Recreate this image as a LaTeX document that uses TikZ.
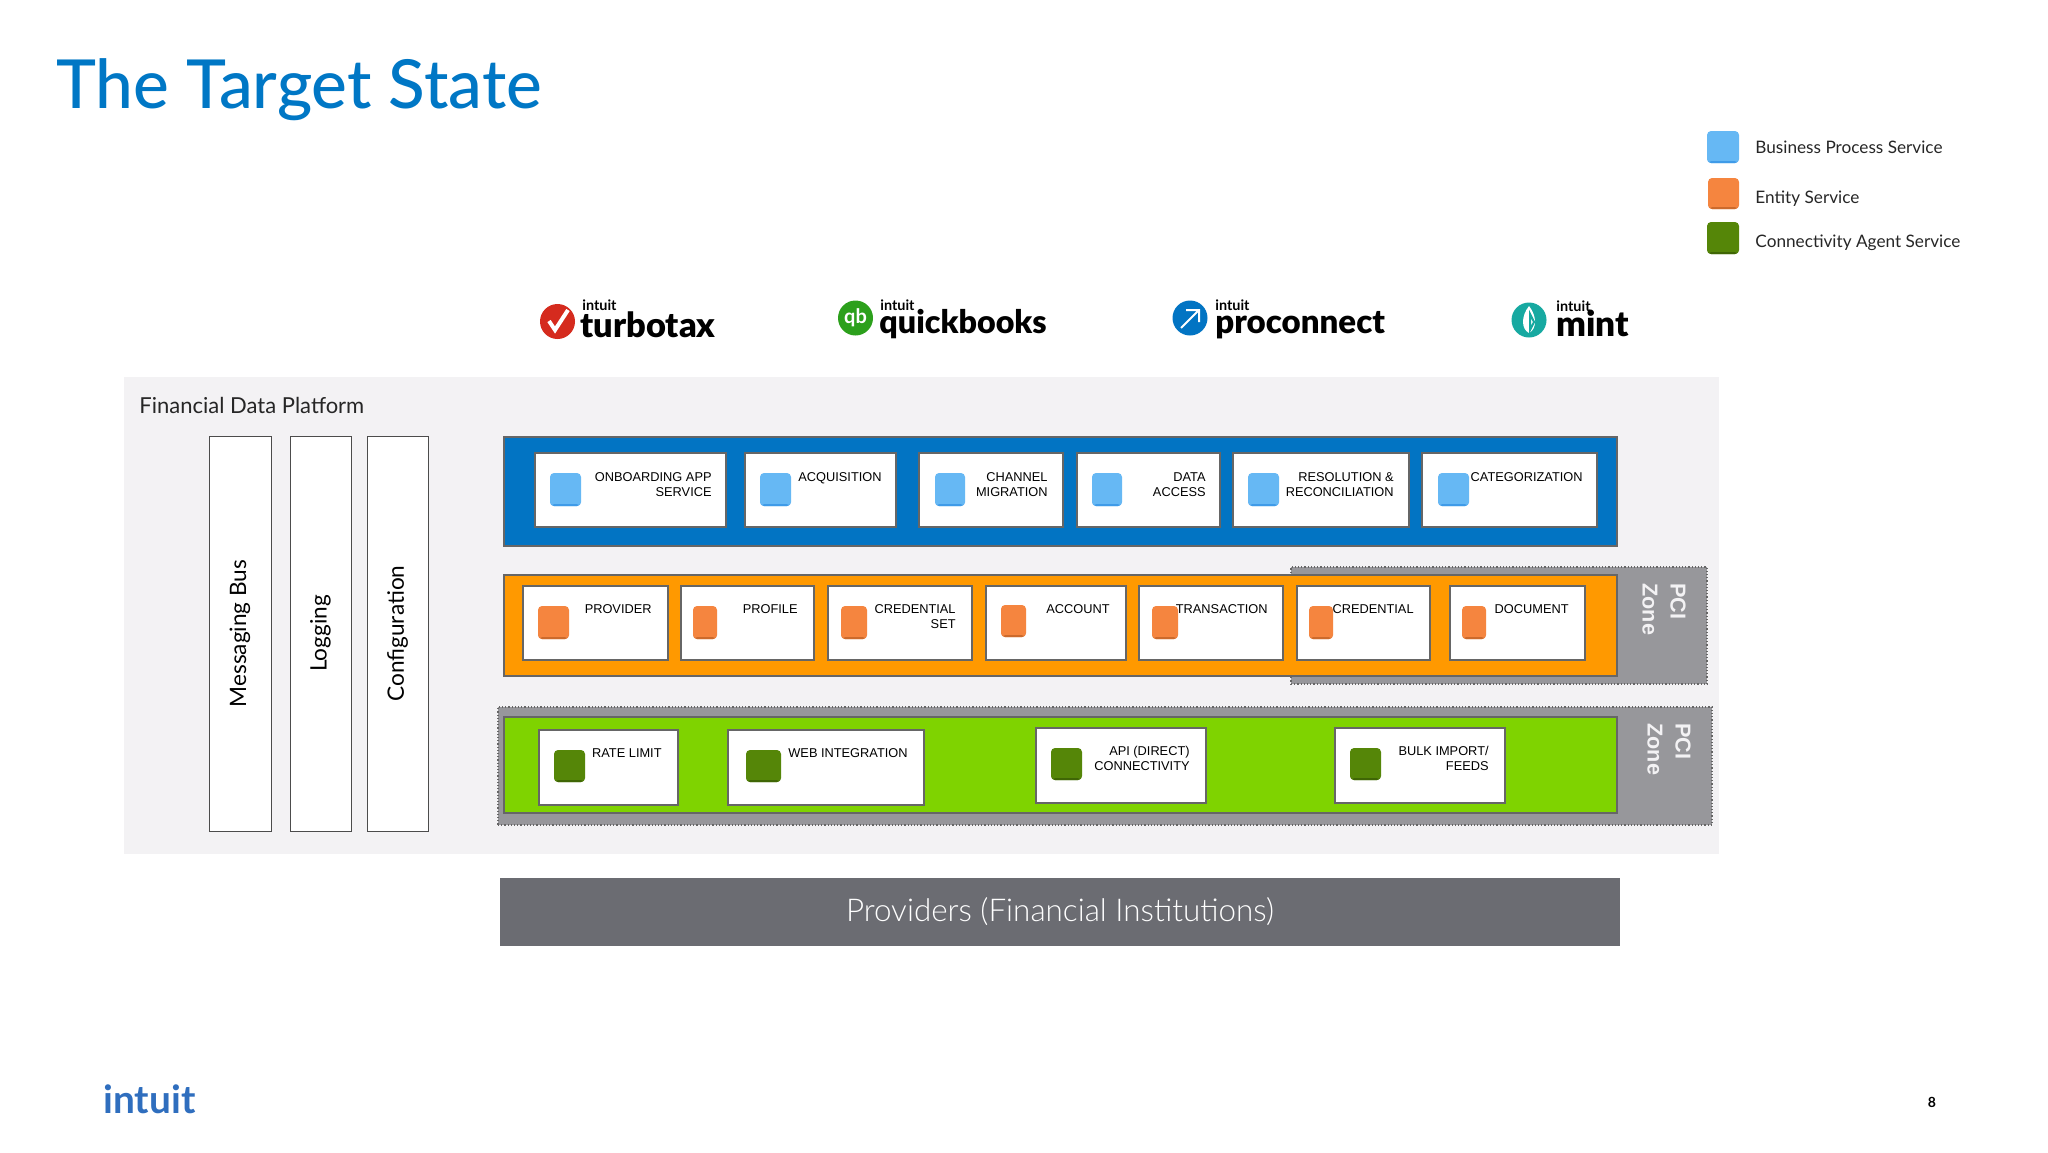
\documentclass[tikz,border=0pt]{standalone}
\usepackage{fontspec}
\setmainfont{Lato}
\newfontfamily\arialfont{Liberation Sans}
\newfontfamily\lightfont{Lato Light}
\newfontfamily\mediumfont{Lato Medium}
\newfontfamily\blackfont{Lato Black}
\usetikzlibrary{fit,positioning}
\definecolor{titleblue}{HTML}{0077C5}
\definecolor{platformgray}{HTML}{F3F2F4}
\definecolor{bandblue}{HTML}{0274C3}
\definecolor{bandorange}{HTML}{FF9900}
\definecolor{bandgreen}{HTML}{7FD300}
\definecolor{zonegray}{HTML}{97979B}
\definecolor{barGray}{HTML}{6B6C72}
\definecolor{iconblue}{HTML}{66B8F4}
\definecolor{edgeblue}{HTML}{3F9BE8}
\definecolor{iconorange}{HTML}{F5853F}
\definecolor{edgeorange}{HTML}{CC6A2C}
\definecolor{icongreen}{HTML}{558608}
\definecolor{edgegreen}{HTML}{3F6605}
\definecolor{taxred}{HTML}{D52B1E}
\definecolor{qbgreen}{HTML}{2CA01C}
\definecolor{mintteal}{HTML}{17A9A1}
\definecolor{footerblue}{HTML}{2F6EBE}
\tikzset{
  band/.style={draw=black!60,line width=0.6pt,inner sep=0pt},
  zone/.style={draw=black!60,densely dotted,line width=0.6pt,fill=zonegray,inner sep=0pt},
  svcbox/.style={draw=black!60,line width=0.6pt,fill=white,inner sep=0pt},
  sidebox/.style={draw=black!70,line width=0.5pt,fill=white,inner sep=0pt},
  icon/.style 2 args={inner sep=0pt,rounded corners=2pt,fill=#1,path picture={
      \fill[#2] ([yshift=0.9pt]path picture bounding box.south west) rectangle (path picture bounding box.south east);}},
  bizicon/.style={icon={iconblue}{edgeblue}},
  entityicon/.style={icon={iconorange}{edgeorange}},
  agenticon/.style={icon={icongreen}{edgegreen}},
  svctext/.style={anchor=north east,inner sep=0pt,align=right,font=\arialfont\fontsize{6.4}{7.6}\selectfont},
  sidetext/.style={rotate=90,font=\fontsize{11.3}{13}\selectfont},
  zonetext/.style={rotate=-90,anchor=north west,inner sep=0pt,align=left,text=platformgray,
      font=\arialfont\bfseries\fontsize{10.8}{14}\selectfont},
  legendtext/.style={anchor=west,inner sep=0pt,text=black!85,font=\fontsize{8.6}{10}\selectfont},
  logodisc/.style={circle,inner sep=0pt,minimum size=17.5pt},
  logosmall/.style={anchor=base west,inner sep=0pt,font=\bfseries\fontsize{7.2}{8}\selectfont},
  logobig/.style={anchor=base west,inner sep=0pt,font=\blackfont\fontsize{16.5}{18}\selectfont}
}
\begin{document}
\begin{tikzpicture}[x=0.5pt,y=-0.5pt]
   \useasboundingbox (0,0) rectangle (2048,1152);
   \node[anchor=base west,inner sep=0pt,text=titleblue,font=\mediumfont\fontsize{33.8}{36}\selectfont] (title) at (56,108) {The Target State};

   % legend
   \node[bizicon,fit={(1707,131)(1739,163)}] (legendbiz) {};
   \node[entityicon,fit={(1708,178)(1739,209)}] (legendentity) {};
   \node[agenticon,fit={(1707,222)(1739,254)}] (legendagent) {};
   \node[legendtext] (legendbiztext) at (1755,147) {Business Process Service};
   \node[legendtext] (legendentitytext) at (1755,199) {Entity Service};
   \node[legendtext] (legendagenttext) at (1755,243) {Connectivity Agent Service};

   % product logos
   \node[logodisc,fill=taxred] (taxdisc) at (557.5,321.5) {};
   \draw[white,line width=2pt] (549,321) -- (555,330) -- (568,310);
   \node[logosmall] (taxintuit) at (582,310) {intuit};
   \node[logobig,font=\blackfont\fontsize{17.2}{18}\selectfont] (taxname) at (580,337) {turbotax};
   \node[logodisc,fill=qbgreen] (qbdisc) at (855.5,318) {\textcolor{white}{\bfseries\fontsize{10}{10}\selectfont qb}};
   \node[logosmall] (qbintuit) at (880,310) {intuit};
   \node[logobig,font=\blackfont\fontsize{16.1}{18}\selectfont] (qbname) at (879,333) {quickbooks};
   \node[logodisc,fill=bandblue] (prodisc) at (1190,318) {};
   \draw[white,line width=1pt] (1181,328) -- (1198,311) (1186,310) -- (1199,310) -- (1199,322);
   \node[logosmall] (prointuit) at (1215,310) {intuit};
   \node[logobig] (proname) at (1215,333) {proconnect};
   \node[logodisc,fill=mintteal] (mintdisc) at (1529,320) {};
   \fill[white] (1529,306) .. controls (1521,316) and (1521,329) .. (1529,333) .. controls (1537,329) and (1537,316) .. (1529,306);
   \draw[mintteal,line width=1pt] (1530,330) -- (1530,314) -- (1534,322) -- cycle;
   \node[logosmall] (mintintuit) at (1556,311) {intuit};
   \node[logobig,font=\blackfont\fontsize{17.6}{18}\selectfont] (mintname) at (1556,336) {mint};

   % platform
   \node[fill=platformgray,inner sep=0pt,fit={(124,377)(1719,854)}] (platform) {};
   \node[anchor=west,inner sep=0pt,font=\fontsize{11}{13}\selectfont,text=black!85] (platformtext) at (139,405) {Financial Data Platform};
   \node[sidebox,fit={(209,436)(271,831)}] (msgbus) {};
   \node[sidebox,fit={(290,436)(351,831)}] (logging) {};
   \node[sidebox,fit={(367,436)(428,831)}] (config) {};
   \node[sidetext] at (msgbus) {Messaging Bus};
   \node[sidetext] at (logging) {Logging};
   \node[sidetext] at (config) {Configuration};

   % business process services
   \node[band,fill=bandblue,fit={(504,437)(1617,546)}] (bizband) {};
   \node[svcbox,fit={(535,453)(726,527)}] (onboarding) {};
   \node[bizicon,fit={(550,473)(581,506)}] (onboardingicon) {};
   \node[svctext] (onboardingtext) at (712,472) {ONBOARDING APP\\SERVICE};
   \node[svcbox,fit={(745,453)(896,527)}] (acquisition) {};
   \node[bizicon,fit={(760,473)(791,506)}] (acquisitionicon) {};
   \node[svctext] (acquisitiontext) at (882,472) {ACQUISITION};
   \node[svcbox,fit={(919,453)(1063,527)}] (migration) {};
   \node[bizicon,fit={(935,473)(965,506)}] (migrationicon) {};
   \node[svctext] (migrationtext) at (1048,472) {CHANNEL\\MIGRATION};
   \node[svcbox,fit={(1077,453)(1220,527)}] (access) {};
   \node[bizicon,fit={(1092,473)(1122,506)}] (accessicon) {};
   \node[svctext] (accesstext) at (1206,472) {DATA\\ACCESS};
   \node[svcbox,fit={(1233,453)(1409,527)}] (resolution) {};
   \node[bizicon,fit={(1248,473)(1279,506)}] (resolutionicon) {};
   \node[svctext] (resolutiontext) at (1394,472) {RESOLUTION \&\\RECONCILIATION};
   \node[svcbox,fit={(1422,453)(1597,527)}] (categorization) {};
   \node[bizicon,fit={(1438,473)(1469,506)}] (categorizationicon) {};
   \node[svctext] (categorizationtext) at (1583,472) {CATEGORIZATION};

   % entity services
   \node[zone,fit={(1291,567)(1707,684)}] (entityzone) {};
   \node[band,fill=bandorange,fit={(504,575)(1617,676)}] (entityband) {};
   \node[zonetext] (entityzonetext) at (1686,583) {PCI\\Zone};
   \node[svcbox,fit={(523,586)(668,660)}] (provider) {};
   \node[entityicon,fit={(538,606)(569,639)}] (providericon) {};
   \node[svctext] (providertext) at (652,604) {PROVIDER};
   \node[svcbox,fit={(681,586)(814,660)}] (profile) {};
   \node[entityicon,fit={(693,606)(717,639)}] (profileicon) {};
   \node[svctext] (profiletext) at (798,604) {PROFILE};
   \node[svcbox,fit={(828,586)(972,660)}] (credset) {};
   \node[entityicon,fit={(841,606)(867,639)}] (credseticon) {};
   \node[svctext] (credsettext) at (956,604) {CREDENTIAL\\SET};
   \node[svcbox,fit={(986,586)(1126,660)}] (account) {};
   \node[entityicon,fit={(1001,605)(1026,637)}] (accounticon) {};
   \node[svctext] (accounttext) at (1110,604) {ACCOUNT};
   \node[svcbox,fit={(1139,586)(1283,660)}] (transaction) {};
   \node[entityicon,fit={(1152,606)(1178,639)}] (transactionicon) {};
   \node[svctext] (transactiontext) at (1268,604) {TRANSACTION};
   \node[svcbox,fit={(1297,586)(1430,660)}] (credential) {};
   \node[entityicon,fit={(1309,606)(1333,639)}] (credentialicon) {};
   \node[svctext] (credentialtext) at (1414,604) {CREDENTIAL};
   \node[svcbox,fit={(1450,586)(1585,660)}] (document) {};
   \node[entityicon,fit={(1462,606)(1486,639)}] (documenticon) {};
   \node[svctext] (documenttext) at (1569,604) {DOCUMENT};

   % connectivity agent services
   \node[zone,fit={(498,707)(1712,825)}] (agentzone) {};
   \node[band,fill=bandgreen,fit={(504,717)(1617,813)}] (agentband) {};
   \node[zonetext] (agentzonetext) at (1691,723) {PCI\\Zone};
   \node[svcbox,fit={(539,730)(678,805)}] (ratelimit) {};
   \node[agenticon,fit={(554,750)(585,782)}] (ratelimiticon) {};
   \node[svctext] (ratelimittext) at (662,748) {RATE LIMIT};
   \node[svcbox,fit={(728,730)(924,805)}] (webint) {};
   \node[agenticon,fit={(746,750)(781,782)}] (webinticon) {};
   \node[svctext] (webinttext) at (908,748) {WEB INTEGRATION};
   \node[svcbox,fit={(1036,728)(1206,803)}] (api) {};
   \node[agenticon,fit={(1051,748)(1082,780)}] (apiicon) {};
   \node[svctext] (apitext) at (1190,746) {API (DIRECT)\\CONNECTIVITY};
   \node[svcbox,fit={(1335,728)(1505,803)}] (bulk) {};
   \node[agenticon,fit={(1350,748)(1381,780)}] (bulkicon) {};
   \node[svctext] (bulktext) at (1489,746) {BULK IMPORT/\\FEEDS};

   % providers bar and footer
   \node[fill=barGray,inner sep=0pt,fit={(500,878)(1620,946)}] (providers) {};
   \node[text=white,font=\lightfont\fontsize{15.7}{17}\selectfont] (providerstext) at (providers) {Providers (Financial Institutions)};
   \node[anchor=base west,inner sep=0pt,text=footerblue,font=\bfseries\fontsize{19.4}{21}\selectfont] (footerlogo) at (103,1113) {intuit};
   \node[inner sep=0pt,font=\bfseries\fontsize{7}{8}\selectfont] (pagenum) at (1932,1102) {8};
\end{tikzpicture}
\end{document}
